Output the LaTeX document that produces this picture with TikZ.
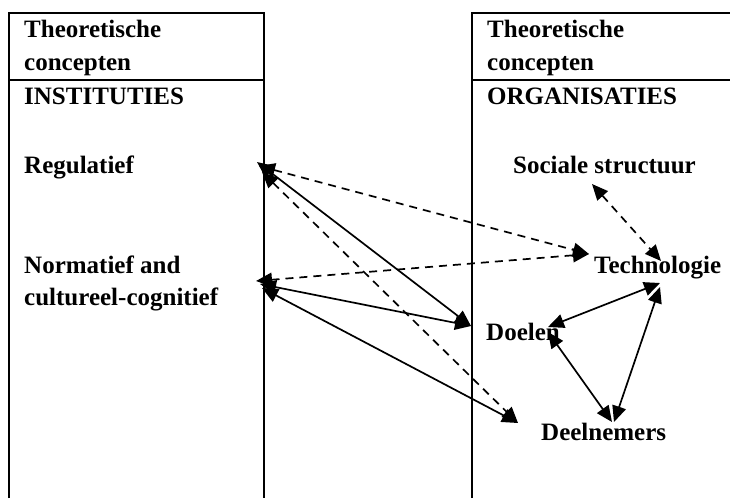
\documentclass[tikz,border=0pt]{standalone}
\usepackage{fontspec}
\setmainfont{Liberation Serif}
\usetikzlibrary{arrows.meta}
\begin{document}
\begin{tikzpicture}[x=1pt,y=-1pt,
  lbl/.style={anchor=base west, inner sep=0pt, font=\fontsize{25}{32}\selectfont\bfseries},
  frame/.style={line width=2pt},
  link/.style={line width=1.7pt, {Triangle[length=16pt,width=14pt]}-{Triangle[length=16pt,width=14pt]}},
  dlink/.style={link, dash pattern=on 8pt off 6pt}]
\useasboundingbox (0,0) rectangle (730,498);
% two open-ended columns
\draw[frame] (9,498) -- (9,13) -- (264,13) -- (264,498);
\draw[frame] (9,80) -- (264,80);
\draw[frame] (472,498) -- (472,13) -- (730,13);
\draw[frame] (472,80) -- (730,80);
% left column labels
\node[lbl] (lh1) at (24,37) {Theoretische};
\node[lbl] (lh2) at (24,70) {concepten};
\node[lbl] (inst) at (24,104) {INSTITUTIES};
\node[lbl] (reg) at (24,173) {Regulatief};
\node[lbl] (norm1) at (24,273) {Normatief and};
\node[lbl] (norm2) at (24,305) {cultureel-cognitief};
% right column labels
\node[lbl] (rh1) at (487,37) {Theoretische};
\node[lbl] (rh2) at (487,70) {concepten};
\node[lbl] (org) at (487,104) {ORGANISATIES};
\node[lbl] (soc) at (513,173) {Sociale structuur};
\node[lbl] (tech) at (594,273) {Technologie};
\node[lbl] (doel) at (486,340) {Doelen};
\node[lbl] (deel) at (541,440) {Deelnemers};
% arrow end points
\coordinate (regA) at (257,162);
\coordinate (regB) at (259,166);
\coordinate (regC) at (262,172);
\coordinate (normA) at (256,281);
\coordinate (normB) at (260,284);
\coordinate (normC) at (262,288);
\coordinate (socS) at (592,184);
\coordinate (techN) at (661,261);
\coordinate (techW) at (589,254);
\coordinate (techL) at (660,283);
\coordinate (techR) at (660,287);
\coordinate (doelW) at (471,326);
\coordinate (doelE) at (548,327);
\coordinate (doelS) at (548,332);
\coordinate (deelW) at (518,423);
\coordinate (deelN1) at (612,422);
\coordinate (deelN2) at (614,422);
% links between the columns
\draw[link] (regA) -- (doelW);
\draw[link] (normB) -- (doelW);
\draw[link] (normC) -- (deelW);
\draw[dlink] (regB) -- (techW);
\draw[dlink] (normA) -- (techW);
\draw[dlink] (regC) -- (deelW);
% links inside the organisation column
\draw[dlink] (socS) -- (techN);
\draw[link] (techL) -- (doelE);
\draw[link] (techR) -- (deelN2);
\draw[link] (doelS) -- (deelN1);
\end{tikzpicture}
\end{document}
